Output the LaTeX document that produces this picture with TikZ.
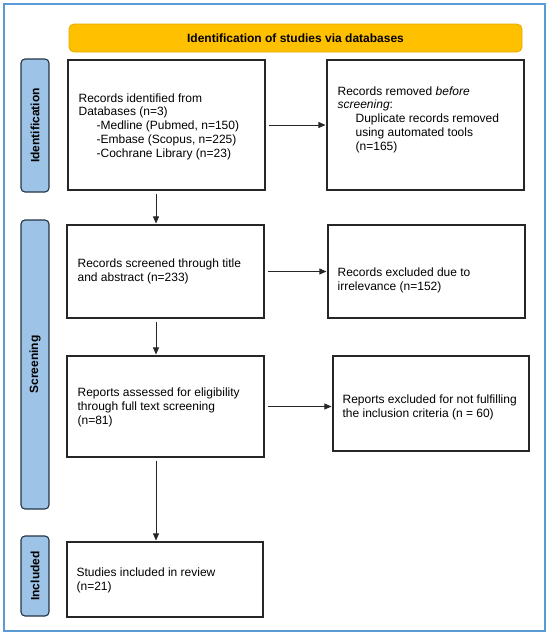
\documentclass[tikz,border=0pt]{standalone}
\usepackage{fontspec}
\setmainfont{Liberation Sans}
\usetikzlibrary{arrows.meta}
\definecolor{frameblue}{HTML}{5B9BD5}
\definecolor{headgold}{HTML}{FFC000}
\definecolor{headedge}{HTML}{E3AA00}
\definecolor{phaseblue}{HTML}{9DC3E6}
\definecolor{phaseedge}{HTML}{243447}
\begin{document}
\begin{tikzpicture}[x=1pt,y=-1pt]
\tikzstyle{every node}+=[inner sep=0pt, font=\fontsize{12}{13.8}\selectfont]
\tikzstyle{box}=[draw=black!85, line width=1.1pt, minimum width=197pt]
\tikzstyle{txt}=[anchor=west, align=left]
\tikzstyle{phase}=[draw=phaseedge, fill=phaseblue, line width=1.1pt, rounded corners=4pt, minimum height=28pt, font=\fontsize{12}{13.8}\selectfont\bfseries, rotate=90]
\tikzstyle{arr}=[black!85, line width=0.7pt, shorten <=3pt, shorten >=1pt, -{Triangle[length=7pt,width=6pt]}]
\useasboundingbox (0,0) rectangle (550,635);
\draw [frameblue, line width=1.2pt] (4,4) rectangle (545,631);
\node [draw=headedge, fill=headgold, rounded corners=5pt, line width=0.8pt, minimum width=453pt, minimum height=28pt, font=\fontsize{12}{13.8}\selectfont\bfseries] (head) at (295.5,38) {Identification of studies via databases};
\node [phase, minimum width=133pt] (idphase) at (35,125.5) {Identification};
\node [phase, minimum width=289pt] (scphase) at (35,364.5) {Screening};
\node [phase, minimum width=80pt] (inphase) at (35,576) {Included};
\node [box, minimum height=130pt] (recid) at (166.5,125) {};
\node [box, minimum height=130pt] (recrem) at (425.5,125) {};
\node [box, minimum height=93pt] (recscr) at (165.5,271.5) {};
\node [box, minimum height=93pt] (recexc) at (426.5,271.5) {};
\node [box, minimum height=101pt] (repass) at (165.5,406.5) {};
\node [box, minimum width=196pt, minimum height=95pt] (repexc) at (431,403.5) {};
\node [box, minimum width=196pt, minimum height=75pt] (incl) at (165,579.5) {};
\node [txt] (recidtext) at ([shift={(11,1.5)}]recid.west) {Records identified from\\Databases (n=3)\\\hspace*{18pt}-Medline (Pubmed, n=150)\\\hspace*{18pt}-Embase (Scopus, n=225)\\\hspace*{18pt}-Cochrane Library (n=23)};
\node [txt] (recremtext) at ([shift={(11,-5.5)}]recrem.west) {Records removed \textit{before}\\\textit{screening}:\\\hspace*{18pt}Duplicate records removed\\\hspace*{18pt}using automated tools\\\hspace*{18pt}(n=165)};
\node [txt] (recscrtext) at ([shift={(11,-0.5)}]recscr.west) {Records screened through title\\and abstract (n=233)};
\node [txt] (recexctext) at ([shift={(10,8.5)}]recexc.west) {Records excluded due to\\irrelevance (n=152)};
\node [txt] (repasstext) at ([shift={(11,1)}]repass.west) {Reports assessed for eligibility\\through full text screening\\(n=81)};
\node [txt] (repexctext) at ([shift={(10,3.5)}]repexc.west) {Reports excluded for not fulfilling\\the inclusion criteria (n = 60)};
\node [txt] (incltext) at ([shift={(10,1)}]incl.west) {Studies included in review\\(n=21)};
\coordinate (spine) at (156,0);
\draw [arr] (recid.south -| spine) -- (recscr.north -| spine);
\draw [arr] (recscr.south -| spine) -- (repass.north -| spine);
\draw [arr] (repass.south -| spine) -- (incl.north -| spine);
\draw [arr] (recid.east) -- (recrem.west);
\draw [arr] (recscr.east) -- (recexc.west);
\draw [arr] (repass.east) -- (repass.east -| repexc.west);
\end{tikzpicture}
\end{document}
